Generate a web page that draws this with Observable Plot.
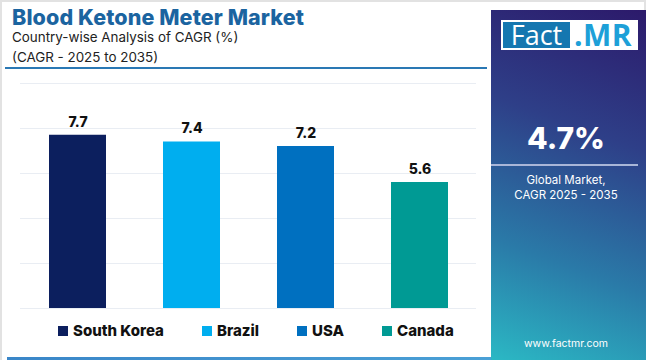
<!DOCTYPE html>
<html>
<head>
<meta charset="utf-8">
<script src="https://cdn.jsdelivr.net/npm/d3@7"></script>
<script src="https://cdn.jsdelivr.net/npm/@observablehq/plot@0.6"></script>
<style>
  html, body { margin: 0; padding: 0; }
  body { width: 650px; height: 360px; position: relative; overflow: hidden; background: #fff; font-family: Inter, "Open Sans", sans-serif; }
  .frame { position: absolute; left: 0; top: 0; width: 646px; height: 360px; border-left: 2px solid #e2e2e2; border-top: 2px solid #e2e2e2; border-right: 2px solid #e2e2e2; box-sizing: border-box; }
  .title { position: absolute; left: 12px; top: 4px; font-size: 21.5px; font-weight: 800; color: #1b64a0; letter-spacing: 0.1px; white-space: nowrap; }
  .sub { position: absolute; left: 12px; font-size: 13.4px; color: #222; white-space: nowrap; }
  .sep { position: absolute; left: 5px; top: 67px; width: 482px; height: 2px; background: #2a78b4; }
  .bottomline { position: absolute; left: 7px; top: 357px; width: 484px; height: 3px; background: linear-gradient(90deg, #3a86c8, #4aa0d6); }
  #chart { position: absolute; left: 0; top: 75px; }
  .legend { position: absolute; top: 321px; left: 0; width: 490px; height: 20px; }
  .legend .item { position: absolute; display: flex; align-items: center; font-weight: 800; font-size: 15px; color: #111; white-space: nowrap; }
  .legend .sw { width: 10px; height: 10px; margin-right: 5px; }
  .panel { position: absolute; left: 491px; top: 10px; width: 155px; height: 350px; background: linear-gradient(200deg, #2c1a6b 0%, #2e3f88 35%, #2a7aa8 70%, #2bb8c4 100%); }
  .logo { position: absolute; left: 10px; top: 10px; width: 137px; height: 30px; background: #fff; }
  .logo .fact { position: absolute; left: 2px; top: 2px; width: 67px; height: 26px; background: #1577b0; color: #fff; font-family: "Open Sans", sans-serif; font-size: 27px; line-height: 26px; text-align: center; }
  .logo .mr { position: absolute; left: 73px; top: 0px; color: #1da0d8; font-family: "Open Sans", sans-serif; font-weight: 700; font-size: 30px; line-height: 30px; letter-spacing: 0.5px; }
  .big { position: absolute; left: 0; width: 150px; top: 110px; text-align: center; color: #fff; font-weight: 800; font-size: 30px; }
  .psep { position: absolute; left: 0; top: 154px; width: 147px; height: 2px; background: #a9b6d8; }
  .ptext { position: absolute; left: 0; width: 150px; text-align: center; color: #fff; font-size: 11.5px; line-height: 15px; }
  .url { position: absolute; left: 0; width: 150px; top: 327px; text-align: center; color: #fff; font-size: 10.5px; }
</style>
</head>
<body>
<div class="frame"></div>
<div class="title">Blood Ketone Meter Market</div>
<div class="sub" style="top:29px">Country-wise Analysis of CAGR (%)</div>
<div class="sub" style="top:49px">(CAGR - 2025 to 2035)</div>
<div class="sep"></div>
<div id="chart"></div>
<div class="legend" id="legend"></div>
<div class="bottomline"></div>
<div class="panel">
  <div class="logo"><div class="fact">Fact</div><div class="mr">.MR</div></div>
  <div class="big" id="big"></div>
  <div class="psep"></div>
  <div class="ptext" style="top:163px">Global Market,<br>CAGR 2025 - 2035</div>
  <div class="url">www.factmr.com</div>
</div>
<script>
const countries = ["South Korea", "Brazil", "USA", "Canada"];
const cagr = [7.7, 7.4, 7.2, 5.6];
const colors = ["#0c1f5e", "#00aeef", "#0070c0", "#009a94"];
const gridTicks = [0, 2, 4, 6, 8, 10];
const globalCagr = "4.7%";
const legendX = [58, 202, 297, 382];

const data = countries.map((c, i) => ({country: c, value: cagr[i]}));

const chart = Plot.plot({
  width: 490,
  height: 240,
  marginTop: 8,
  marginBottom: 7,
  marginLeft: 20,
  marginRight: 14,
  x: {domain: countries, paddingInner: 0.5, paddingOuter: 0.25, axis: null},
  y: {domain: [0, 10], axis: null},
  color: {domain: countries, range: colors},
  style: {background: "transparent", fontFamily: "Inter, sans-serif"},
  marks: [
    Plot.ruleY(gridTicks, {stroke: "#e9edf3", strokeWidth: 1}),
    Plot.barY(data, {x: "country", y: "value", fill: "country"}),
    Plot.text(data, {x: "country", y: "value", text: d => d.value.toFixed(1), dy: -13, fontSize: 14, fontWeight: 800, fill: "#111"})
  ]
});
document.getElementById("chart").appendChild(chart);

const legend = document.getElementById("legend");
countries.forEach((c, i) => {
  const it = document.createElement("div");
  it.className = "item";
  it.style.left = legendX[i] + "px";
  it.innerHTML = `<span class="sw" style="background:${colors[i]}"></span>${c}`;
  legend.appendChild(it);
});
document.getElementById("big").textContent = globalCagr;
</script>
</body>
</html>
